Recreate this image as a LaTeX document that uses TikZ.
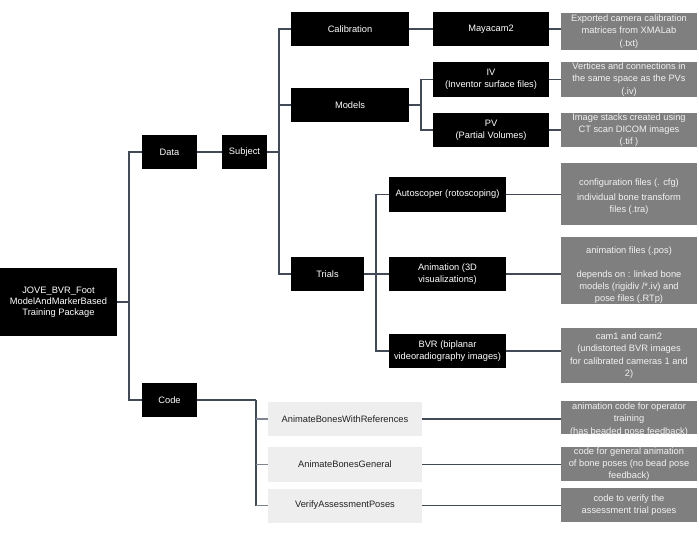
\documentclass[tikz,border=0pt]{standalone}
\usepackage{fontspec}
\setmainfont{Liberation Sans}
\definecolor{linec}{HTML}{414A56}
\definecolor{stubc}{HTML}{7E858E}
\definecolor{descfill}{HTML}{7F7F7F}
\definecolor{desctext}{HTML}{F2F2F2}
\definecolor{lightfill}{HTML}{EEEEEE}
\definecolor{darktext}{HTML}{222222}
\begin{document}
\begin{tikzpicture}[x=1pt,y=-1pt,
  every node/.style={font=\fontsize{9.3}{12.3}\selectfont, align=center, inner sep=0pt},
  blk/.style={fill=black, text=white, minimum height=34pt},
  light/.style={fill=lightfill, text=darktext, minimum width=154pt, minimum height=34pt},
  desc/.style={fill=descfill, minimum width=136pt},
  desctxt/.style={text=desctext},
  conn/.style={draw=linec, line width=1.1pt},
  stub/.style={draw=stubc, line width=1.1pt}]
\useasboundingbox (0,0) rectangle (699,534);

% black boxes
\node[blk, minimum width=117pt, minimum height=68pt, font=\fontsize{9.3}{11.2}\selectfont] (root) at (58.5,302) {JOVE\_BVR\_Foot\\ModelAndMarkerBased\\Training Package};
\node[blk, minimum width=55pt] (data) at (169.5,152) {Data};
\node[blk, minimum width=45pt] (subject) at (244.5,152) {Subject};
\node[blk, minimum width=118pt] (calib) at (350,29) {Calibration};
\node[blk, minimum width=118pt] (models) at (350,105) {Models};
\node[blk, minimum width=73pt] (trials) at (327.5,274) {Trials};
\node[blk, minimum width=116pt] (maya) at (491,29) {Mayacam2};
\node[blk, minimum width=116pt, minimum height=35pt] (iv) at (491,79.5) {IV\\(Inventor surface files)};
\node[blk, minimum width=116pt] (pv) at (491,130) {PV\\(Partial Volumes)};
\node[blk, minimum width=117pt, minimum height=35pt] (auto) at (447.5,194.5) {Autoscoper (rotoscoping)};
\node[blk, minimum width=117pt] (anim) at (447.5,274) {Animation (3D\\visualizations)};
\node[blk, minimum width=117pt] (bvr) at (447.5,351) {BVR (biplanar\\videoradiography images)};
\node[blk, minimum width=55pt] (code) at (169.5,400) {Code};

% light code boxes
\node[light] (cw) at (345,419) {AnimateBonesWithReferences};
\node[light] (cg) at (345,464.5) {AnimateBonesGeneral};
\node[light] (cv) at (345,505.5) {VerifyAssessmentPoses};

% description boxes
\node[desc, minimum height=37pt] (dmaya) at (629,31.5) {};
\node[desctxt] (dmayat) at (dmaya) {Exported camera calibration\\matrices from XMALab\\(.txt)};
\node[desc, minimum height=35pt] (div) at (629,79.5) {};
\node[desctxt] (divt) at (div) {Vertices and connections in\\the same space as the PVs\\(.iv)};
\node[desc, minimum height=34pt] (dpv) at (629,130) {};
\node[desctxt] (dpvt) at (dpv) {Image stacks created using\\CT scan DICOM images\\(.tif )};
\node[desc, minimum height=62pt] (dauto) at (629,194) {};
\node[desctxt] (dautot) at (629,197) {configuration files (. cfg)\\[2.5pt]individual bone transform\\files (.tra)};
\node[desc, minimum height=67pt] (danim) at (629,270.5) {};
\node[desctxt, font=\fontsize{9.3}{12}\selectfont] (danimt) at (629,275.5) {animation files (.pos)\\[12pt]depends on : linked bone\\models (rigidiv /*.iv) and\\pose files (.RTp)};
\node[desc, minimum height=55pt] (dbvr) at (629,355.5) {};
\node[desctxt] (dbvrt) at (dbvr) {cam1 and cam2\\(undistorted BVR images\\for calibrated cameras 1 and\\2)};
\node[desc, minimum height=33pt] (dcw) at (629,417.5) {};
\node[desctxt] (dcwt) at (629,419.5) {animation code for operator\\training\\(has beaded pose feedback)};
\node[desc, minimum height=34pt] (dcg) at (629,464) {};
\node[desctxt] (dcgt) at (dcg) {code for general animation\\of bone poses (no bead pose\\feedback)};
\node[desc, minimum height=34pt] (dcv) at (629,505) {};
\node[desctxt] (dcvt) at (dcv) {code to verify the\\assessment trial poses};

% bus coordinates
\coordinate (busA) at (129,302);
\coordinate (busS) at (279,152);
\coordinate (busM) at (421,105);
\coordinate (busT) at (376,274);
\coordinate (busC) at (256,400);

% connectors
\draw[conn] (root.east) -- (busA);
\draw[conn] (data.west) -| (busA);
\draw[conn] (code.west) -| (busA);
\draw[conn] (data.east) -- (subject.west);
\draw[conn] (subject.east) -- (busS);
\draw[conn] (calib.west) -| (busS);
\draw[conn] (models.west) -| (busS);
\draw[conn] (trials.west) -| (busS);
\draw[conn] (calib.east) -- (maya.west);
\draw[conn] (models.east) -- (busM);
\draw[conn] (iv.west) -| (busM);
\draw[conn] (pv.west) -| (busM);
\draw[conn] (trials.east) -- (busT);
\draw[conn] (auto.west) -| (busT);
\draw[conn] (anim.west) -| (busT);
\draw[conn] (bvr.west) -| (busT);
\draw[conn] (code.east) -- (busC);
\draw[conn] (cv.west) -| (busC);
\draw[stub] (cw.west) -- ++(-12,0);
\draw[stub] (cg.west) -- ++(-12,0);
\draw[stub] (cv.west) -- ++(-12,0);
\draw[conn] (maya.east) -- (maya.east -| dmaya.west);
\draw[conn] (iv.east) -- (iv.east -| div.west);
\draw[conn] (pv.east) -- (pv.east -| dpv.west);
\draw[conn] (auto.east) -- (auto.east -| dauto.west);
\draw[conn] (anim.east) -- (anim.east -| danim.west);
\draw[conn] (bvr.east) -- (bvr.east -| dbvr.west);
\draw[conn] (cw.east) -- (cw.east -| dcw.west);
\draw[conn] (cg.east) -- (cg.east -| dcg.west);
\draw[conn] (cv.east) -- (cv.east -| dcv.west);
\end{tikzpicture}
\end{document}
